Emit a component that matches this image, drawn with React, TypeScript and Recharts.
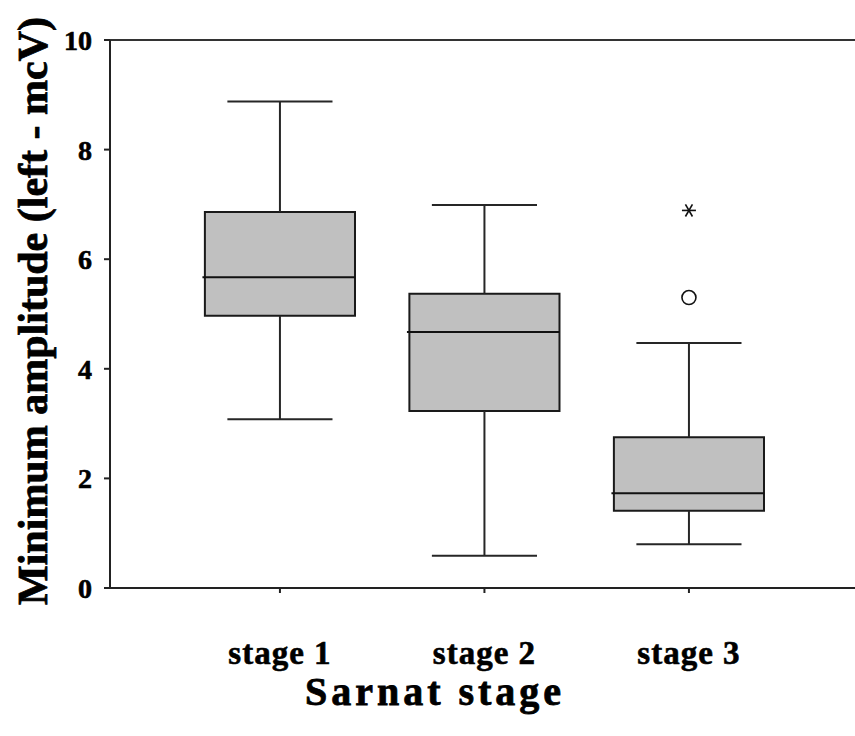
import {
  ComposedChart,
  ReferenceArea,
  ReferenceLine,
  Scatter,
  XAxis,
  YAxis,
} from "recharts";

// ---------------------------------------------------------------------------
// Data — five-number summaries per Sarnat stage
// ---------------------------------------------------------------------------

const stages = ["stage 1", "stage 2", "stage 3"];
const positions = [1, 2, 3];
const whiskerLow = [3.08, 0.59, 0.8];
const q1 = [4.97, 3.23, 1.41];
const median = [5.67, 4.67, 1.73];
const q3 = [6.86, 5.37, 2.75];
const whiskerHigh = [8.88, 6.99, 4.47];

// SPSS style: circle = outlier, asterisk = extreme value
const outliers = [{ x: 3, y: 5.3 }];
const extremes = [{ x: 3, y: 6.89 }];

const yTicks = [0, 2, 4, 6, 8, 10];

const BOX_HALF = 0.367;
const CAP_HALF = 0.257;
const FONT = '"Liberation Serif", "Times New Roman", serif';
const LINE = "#262626";

function Circle(props: any) {
  const { cx, cy } = props;
  return <circle cx={cx} cy={cy} r={7} fill="#fff" stroke="#111" strokeWidth={1.6} />;
}

function Asterisk(props: any) {
  const { cx, cy } = props;
  const r = 7;
  const dx = r * Math.cos(Math.PI / 3);
  const dy = r * Math.sin(Math.PI / 3);
  return (
    <g stroke="#111" strokeWidth={1.6}>
      <line x1={cx - r} y1={cy} x2={cx + r} y2={cy} />
      <line x1={cx - dx} y1={cy - dy} x2={cx + dx} y2={cy + dy} />
      <line x1={cx - dx} y1={cy + dy} x2={cx + dx} y2={cy - dy} />
    </g>
  );
}

function YTitle() {
  return (
    <text
      x={33}
      y={311}
      transform="rotate(-90 33 311)"
      textAnchor="middle"
      dominantBaseline="central"
      fontFamily={FONT}
      fontWeight="bold"
      fontSize={42}
      stroke="#000"
      strokeWidth={0.8}
      fill="#000"
    >
      Minimum amplitude (left - mcV)
    </text>
  );
}

function XTitle() {
  return (
    <text
      x={435}
      y={705}
      textAnchor="middle"
      fontFamily={FONT}
      fontWeight="bold"
      fontSize={40}
      letterSpacing={4}
      stroke="#000"
      strokeWidth={0.8}
      fill="#000"
    >
      Sarnat stage
    </text>
  );
}

export default function App() {
  return (
    <div style={{ position: "absolute", left: 0, top: 0, background: "#fff" }}>
      <ComposedChart
        width={855}
        height={736}
        margin={{ top: 40, right: 0, bottom: 0, left: 0 }}
      >
        <XAxis
          type="number"
          dataKey="x"
          domain={[0.169, 3.812]}
          allowDataOverflow
          ticks={positions}
          tickFormatter={(v: number) => stages[positions.indexOf(v)] ?? ""}
          height={148}
          tickSize={5}
          tickMargin={48}
          axisLine={{ stroke: "#222", strokeWidth: 2 }}
          tickLine={{ stroke: "#222", strokeWidth: 2 }}
          tick={{
            fontFamily: FONT,
            fontWeight: "bold",
            fontSize: 33,
            letterSpacing: 1,
            fill: "#000",
            stroke: "#000",
            strokeWidth: 0.6,
          }}
          label={{ content: () => <XTitle /> }}
        />
        <YAxis
          type="number"
          domain={[0, 10]}
          ticks={yTicks}
          width={110}
          tickSize={6}
          tickMargin={12}
          axisLine={{ stroke: "#222", strokeWidth: 2 }}
          tickLine={{ stroke: "#222", strokeWidth: 2 }}
          tick={{
            fontFamily: FONT,
            fontWeight: "bold",
            fontSize: 28,
            fill: "#000",
            stroke: "#000",
            strokeWidth: 0.6,
          }}
          label={{ content: () => <YTitle /> }}
        />

        {/* top frame line */}
        <ReferenceLine y={10} stroke="#333" strokeWidth={2} />

        {positions.map((p, i) => (
          <ReferenceLine
            key={`wu${i}`}
            segment={[{ x: p, y: q3[i] }, { x: p, y: whiskerHigh[i] }]}
            stroke={LINE}
            strokeWidth={2}
          />
        ))}
        {positions.map((p, i) => (
          <ReferenceLine
            key={`wl${i}`}
            segment={[{ x: p, y: whiskerLow[i] }, { x: p, y: q1[i] }]}
            stroke={LINE}
            strokeWidth={2}
          />
        ))}
        {positions.map((p, i) => (
          <ReferenceLine
            key={`ch${i}`}
            segment={[{ x: p - CAP_HALF, y: whiskerHigh[i] }, { x: p + CAP_HALF, y: whiskerHigh[i] }]}
            stroke={LINE}
            strokeWidth={2}
          />
        ))}
        {positions.map((p, i) => (
          <ReferenceLine
            key={`cl${i}`}
            segment={[{ x: p - CAP_HALF, y: whiskerLow[i] }, { x: p + CAP_HALF, y: whiskerLow[i] }]}
            stroke={LINE}
            strokeWidth={2}
          />
        ))}
        {positions.map((p, i) => (
          <ReferenceArea
            key={`box${i}`}
            x1={p - BOX_HALF}
            x2={p + BOX_HALF}
            y1={q1[i]}
            y2={q3[i]}
            fill="#c0c0c0"
            fillOpacity={1}
            stroke="#1a1a1a"
            strokeWidth={2}
          />
        ))}
        {positions.map((p, i) => (
          <ReferenceLine
            key={`med${i}`}
            segment={[{ x: p - BOX_HALF - 0.012, y: median[i] }, { x: p + BOX_HALF, y: median[i] }]}
            stroke="#111"
            strokeWidth={2}
          />
        ))}

        <Scatter data={outliers} dataKey="y" shape={<Circle />} isAnimationActive={false} />
        <Scatter data={extremes} dataKey="y" shape={<Asterisk />} isAnimationActive={false} />
      </ComposedChart>
    </div>
  );
}
